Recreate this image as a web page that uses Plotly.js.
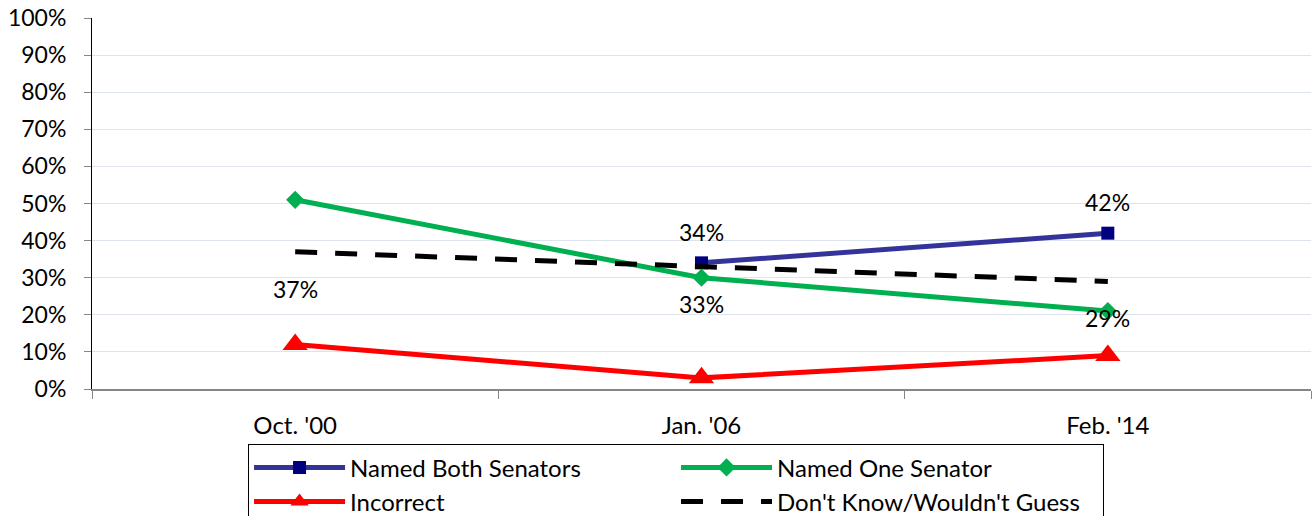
<!DOCTYPE html>
<html>
<head>
<meta charset="utf-8">
<script src="https://cdn.plot.ly/plotly-3.0.1.min.js"></script>
<style>html,body{margin:0;padding:0;background:#fff;}#chart{width:1312px;height:516px;}</style>
</head>
<body>
<div id="chart"></div>
<script>
const categories = ["Oct. '00", "Jan. '06", "Feb. '14"];
const namedBoth = [null, 0.34, 0.42];
const namedOne = [0.51, 0.30, 0.21];
const incorrect = [0.12, 0.03, 0.09];
const dontKnow = [0.37, 0.33, 0.29];
const bothLabels = [null, "34%", "42%"];
const dkLabels = ["37%", "33%", "29%"];
const yTicks = [0, 0.1, 0.2, 0.3, 0.4, 0.5, 0.6, 0.7, 0.8, 0.9, 1.0];

const FONT = "Lato, 'Open Sans', sans-serif";

const traces = [
  {
    name: "Named Both Senators", x: categories, y: namedBoth, type: "scatter", mode: "lines+markers",
    line: {color: "#333399", width: 5}, marker: {symbol: "square", size: 13, color: "#000080"}
  },
  {
    name: "Named One Senator", x: categories, y: namedOne, type: "scatter", mode: "lines+markers",
    line: {color: "#00b050", width: 5}, marker: {symbol: "diamond", size: 14, color: "#00b050"}
  },
  {
    name: "Incorrect", x: categories, y: incorrect, type: "scatter", mode: "lines+markers",
    line: {color: "#ff0000", width: 5}, marker: {symbol: "triangle-up", size: 22, color: "#ff0000"}
  },
  {
    name: "Don't Know/Wouldn't Guess", x: categories, y: dontKnow, type: "scatter", mode: "lines",
    line: {color: "#000000", width: 5, dash: "22px,18px"}
  }
];

const annotations = [];
categories.forEach((c, i) => {
  if (bothLabels[i] !== null) {
    annotations.push({x: c, y: namedBoth[i], text: bothLabels[i], showarrow: false, yshift: 31,
      font: {family: FONT, size: 23, color: "#000"}});
  }
  annotations.push({x: c, y: dontKnow[i], text: dkLabels[i], showarrow: false, yshift: -37,
    font: {family: FONT, size: 23, color: "#000"}});
});

const layout = {
  width: 1312, height: 516,
  margin: {l: 92, r: 1, t: 18, b: 127, autoexpand: false},
  paper_bgcolor: "#fff", plot_bgcolor: "#fff",
  font: {family: FONT, size: 23, color: "#000"},
  showlegend: true,
  legend: {
    orientation: "h", x: 0.128, xanchor: "left", y: -0.149, yanchor: "top",
    bordercolor: "#000", borderwidth: 1, bgcolor: "#fff",
    font: {family: FONT, size: 24, color: "#000"},
    entrywidth: 321, entrywidthmode: "pixels", itemwidth: 91,
    traceorder: "normal", tracegroupgap: 0
  },
  xaxis: {
    type: "category", categoryorder: "array", categoryarray: categories,
    range: [-0.5, 2.5], tickson: "boundaries", ticks: "outside", ticklen: 8,
    tickcolor: "#868686", showline: true, linecolor: "#868686", linewidth: 1.5,
    showgrid: false, zeroline: false, fixedrange: true,
    tickfont: {family: FONT, size: 24, color: "#000"}, ticklabelstandoff: 15
  },
  yaxis: {
    range: [0, 1], tickvals: yTicks, tickformat: ".0%", ticks: "outside", ticklen: 7,
    tickcolor: "#868686", showline: true, linecolor: "#000", linewidth: 1,
    showgrid: true, gridcolor: "#dde4ef", gridwidth: 1, zeroline: false, fixedrange: true,
    tickfont: {family: FONT, size: 23, color: "#000"}, ticklabelstandoff: 13
  },
  annotations: annotations
};

Plotly.newPlot("chart", traces, layout, {displayModeBar: false, staticPlot: true});
</script>
</body>
</html>
